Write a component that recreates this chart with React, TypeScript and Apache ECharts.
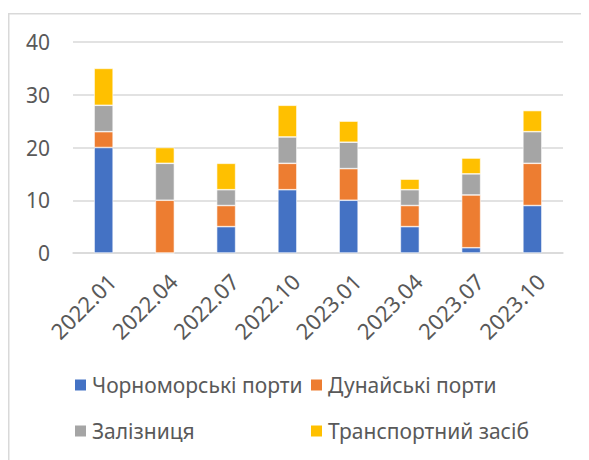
import React, { useEffect, useRef } from "react";
import * as echarts from "echarts";

const categories = ["2022.01", "2022.04", "2022.07", "2022.10", "2023.01", "2023.04", "2023.07", "2023.10"];
const seriesNames = ["Чорноморські порти", "Дунайські порти", "Залізниця", "Транспортний засіб"];
const blackSea = [20, 0, 5, 12, 10, 5, 1, 9];
const danube = [3, 10, 4, 5, 6, 4, 10, 8];
const railway = [5, 7, 3, 5, 5, 3, 4, 6];
const vehicle = [7, 3, 5, 6, 4, 2, 3, 4];
const colors = ["#4472C4", "#ED7D31", "#A5A5A5", "#FFC000"];

const FONT = "Noto Sans";
const TEXT = "#595959";

export default function App() {
  const ref = useRef<HTMLDivElement>(null);
  useEffect(() => {
    if (!ref.current) return;
    const chart = echarts.init(ref.current, undefined, { renderer: "svg" });
    const values = [blackSea, danube, railway, vehicle];
    const legendPos = [
      { left: 65, top: 365 },
      { left: 301, top: 365 },
      { left: 65, top: 411 },
      { left: 301, top: 411 },
    ];
    chart.setOption({
      animation: false,
      textStyle: { fontFamily: FONT },
      grid: { left: 65, right: 26, top: 34, bottom: 207, containLabel: false },
      legend: seriesNames.map((n, i) => ({
        data: [n],
        left: legendPos[i].left,
        top: legendPos[i].top,
        icon: "rect",
        itemWidth: 13,
        itemHeight: 13,
        itemGap: 0,
        padding: 0,
        textStyle: { color: TEXT, fontSize: 21, lineHeight: 24, fontFamily: FONT },
      })),
      xAxis: {
        type: "category",
        data: categories,
        axisLine: { lineStyle: { color: "#D9D9D9", width: 1.5 } },
        axisTick: { show: false },
        axisLabel: {
          rotate: 45,
          color: TEXT,
          fontSize: 22,
          fontFamily: FONT,
          margin: 16,
          verticalAlign: "top",
          lineHeight: 23,
        },
      },
      yAxis: {
        type: "value",
        min: 0,
        max: 40,
        interval: 10,
        axisLine: { show: false },
        axisTick: { show: false },
        splitLine: { lineStyle: { color: "#D9D9D9", width: 1.5 } },
        axisLabel: { color: TEXT, fontSize: 21, fontFamily: FONT, margin: 23 },
      },
      graphic: [
        { type: "line", shape: { x1: 0.75, y1: 5, x2: 0.75, y2: 460 }, style: { stroke: "#D9D9D9", lineWidth: 1.5 } },
        { type: "line", shape: { x1: 0, y1: 5.75, x2: 600, y2: 5.75 }, style: { stroke: "#D9D9D9", lineWidth: 1.5 } },
      ],
      series: seriesNames.map((n, i) => ({
        name: n,
        type: "bar",
        stack: "total",
        barWidth: 19,
        data: values[i],
        itemStyle: { color: colors[i], borderColor: "#FFFFFF", borderWidth: 0.6 },
      })),
    });
    return () => chart.dispose();
  }, []);
  return <div ref={ref} style={{ width: 581, height: 452 }} />;
}
